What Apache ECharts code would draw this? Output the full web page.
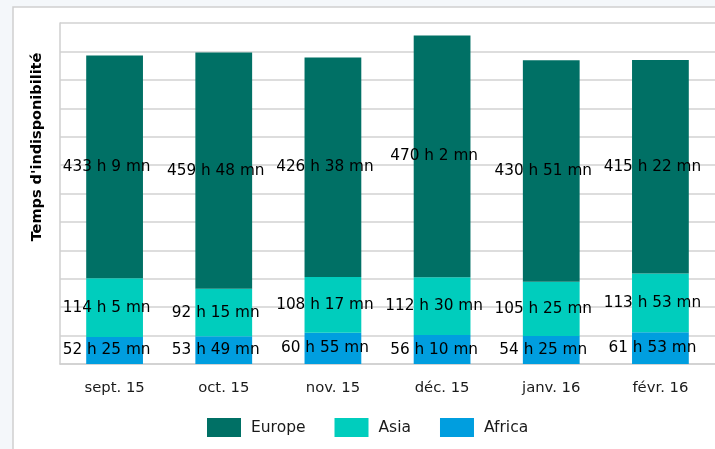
<!DOCTYPE html>
<html>
<head>
<meta charset="utf-8">
<script src="https://cdn.jsdelivr.net/npm/echarts@6/dist/echarts.min.js"></script>
<style>
html,body{margin:0;padding:0;background:#f4f7fa;}
#c{width:715px;height:449px;}
</style>
</head>
<body>
<div id="c"></div>
<script>
const categories = ['sept. 15', 'oct. 15', 'nov. 15', 'déc. 15', 'janv. 16', 'févr. 16'];
const seriesNames = ['Europe', 'Asia', 'Africa'];
const africaHours = [52, 53, 60, 56, 54, 61];
const africaMinutes = [25, 49, 55, 10, 25, 53];
const asiaHours = [114, 92, 108, 112, 105, 113];
const asiaMinutes = [5, 15, 17, 30, 25, 53];
const europeHours = [433, 459, 426, 470, 430, 415];
const europeMinutes = [9, 48, 38, 2, 51, 22];

const toVal = (h, m) => h.map((v, i) => v + m[i] / 60);
const fmt = (h, m) => p => h[p.dataIndex] + ' h ' + m[p.dataIndex] + ' mn';

const labelStyle = (h, m) => ({
  show: true, position: 'inside', offset: [-8, 0],
  color: '#000', fontFamily: 'DejaVu Sans', fontSize: 15.3,
  formatter: fmt(h, m)
});

const chart = echarts.init(document.getElementById('c'), null, {renderer: 'canvas'});
chart.setOption({
  animation: false,
  backgroundColor: 'transparent',
  graphic: [
    {type: 'rect', z: -10, shape: {x: 13, y: 7, width: 720, height: 460},
     style: {fill: '#ffffff', stroke: '#cfcfcf', lineWidth: 1.5}},
    {type: 'text', x: 37, y: 147, rotation: Math.PI / 2,
     style: {text: "Temps d'indisponibilité", fill: '#000', font: 'bold 14.5px DejaVu Sans',
             align: 'center', verticalAlign: 'middle'}}
  ],
  grid: {left: 60, top: 23, right: -4, bottom: 85, containLabel: false},
  legend: {
    data: seriesNames, left: 207, top: 418, padding: 0, itemWidth: 34, itemHeight: 19, itemGap: 29,
    icon: 'rect',
    textStyle: {color: '#1a1a1a', fontFamily: 'DejaVu Sans', fontSize: 15.5, padding: [0, 0, 0, 5]}
  },
  xAxis: {
    type: 'category', data: categories,
    axisLine: {lineStyle: {color: '#cfcfcf', width: 1.5}},
    axisTick: {show: false},
    axisLabel: {color: '#1a1a1a', fontFamily: 'DejaVu Sans', fontSize: 14.8, margin: 17}
  },
  yAxis: {
    type: 'value', min: 0, max: 663, interval: 55.25,
    axisLabel: {show: false},
    axisLine: {show: true, lineStyle: {color: '#cfcfcf', width: 1.5}},
    axisTick: {show: false},
    splitLine: {lineStyle: {color: '#d2d2d2', width: 1.5}}
  },
  series: [
    {name: 'Africa', type: 'bar', stack: 't', barCategoryGap: '48%',
     data: toVal(africaHours, africaMinutes), itemStyle: {color: '#009EDF'},
     label: labelStyle(africaHours, africaMinutes)},
    {name: 'Asia', type: 'bar', stack: 't',
     data: toVal(asiaHours, asiaMinutes), itemStyle: {color: '#00CDBD'},
     label: labelStyle(asiaHours, asiaMinutes)},
    {name: 'Europe', type: 'bar', stack: 't',
     data: toVal(europeHours, europeMinutes), itemStyle: {color: '#007065'},
     label: labelStyle(europeHours, europeMinutes)}
  ]
});
</script>
</body>
</html>
